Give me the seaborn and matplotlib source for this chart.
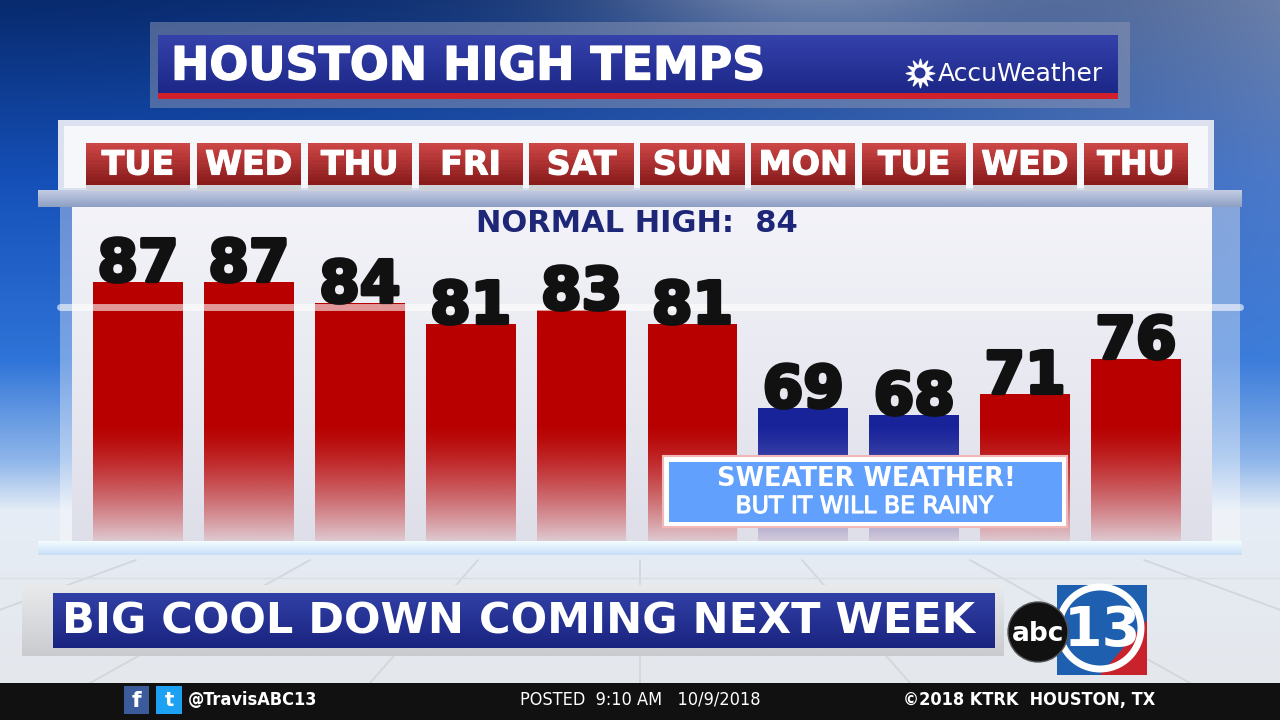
import numpy as np
import pandas as pd
import matplotlib
matplotlib.use("Agg")
import matplotlib.pyplot as plt
import matplotlib.colors as mcolors
import matplotlib.transforms as mtrans
import matplotlib.patheffects as pe
from matplotlib.patches import Rectangle, Circle, Polygon
import seaborn as sns

# chart values
days = ["TUE", "WED", "THU", "FRI", "SAT", "SUN", "MON", "TUE", "WED", "THU"]
highs = [87, 87, 84, 81, 83, 81, 69, 68, 71, 76]
normal_high = 84
cool_cutoff = 70

title = "HOUSTON HIGH TEMPS"
headline = "BIG COOL DOWN COMING NEXT WEEK"
callout = ["SWEATER WEATHER!", "BUT IT WILL BE RAINY"]
footer = ["@TravisABC13", "POSTED  9:10 AM   10/9/2018", "\u00a92018 KTRK  HOUSTON, TX"]

RED = "#b80000"
BLUE = "#18239a"
NAVY = "#1e2677"

W, H = 1280, 720
BASE = 50          # temperature at the foot of the bars
PX_PER_DEG = 7

sns.set_theme(style="white")
plt.rcParams['font.family'] = ['DejaVu Sans']


def grad_rect(ax, x0, y0, w, h, c_top, c_bot, z, alpha=1.0, **kw):
    t = np.linspace(0, 1, 64)[:, None]
    a = np.array(mcolors.to_rgb(c_top))
    b = np.array(mcolors.to_rgb(c_bot))
    img = (a * (1 - t) + b * t)[:, None, :]
    im = ax.imshow(img, extent=(x0, x0 + w, y0 + h, y0), origin='upper',
                   aspect='auto', zorder=z, alpha=alpha, interpolation='bilinear', **kw)
    return im


fig = plt.figure(figsize=(12.8, 7.2), dpi=100)

# ---- background layer (pixel coordinates) ----
bg = fig.add_axes([0, 0, 1, 1], zorder=0)
ys = np.linspace(0, 1, H)
xs = np.linspace(0, 1, W)
stops = [(0, '#082a6e'), (0.25, '#1550b8'), (0.5, '#2f74d8'), (0.64, '#8fb6ea'),
         (0.71, '#e6edf6'), (1, '#e4e6ea')]
pos = [s[0] for s in stops]
cols = np.array([mcolors.to_rgb(s[1]) for s in stops])
col = np.stack([np.interp(ys, pos, cols[:, k]) for k in range(3)], axis=-1)
img = np.repeat(col[:, None, :], W, axis=1)
light = 0.4 * xs[None, :] ** 2 * np.clip(1 - ys[:, None] / 0.6, 0, 1)
light += 0.25 * np.exp(-((xs[None, :] - 0.62) / 0.15) ** 2) * np.clip(1 - ys[:, None] / 0.12, 0, 1)
img = img + (1 - img) * light[..., None]
bg.imshow(img, extent=(0, W, H, 0), aspect='auto', zorder=0)

# floor lines
for xb in [-200, 90, 370, 640, 910, 1190, 1480]:
    bg.plot([640 + (xb - 640) * 0.6, xb], [560, 683], color='#d3d6db', lw=1.3, zorder=1)
bg.plot([0, W], [578, 578], color='#d9dce0', lw=1, zorder=1)

# glass panel
bg.add_patch(Rectangle((58, 120), 1156, 72, facecolor='#dbe1ee', edgecolor='none', zorder=2))
bg.add_patch(Rectangle((64, 126), 1144, 62, facecolor='#f6f7fb', edgecolor='none', zorder=2))
grad_rect(bg, 38, 190, 1204, 17, '#c3cde3', '#8e9fc4', 2)
bg.add_patch(Rectangle((60, 207), 1180, 334, facecolor='white', alpha=0.35, edgecolor='none', zorder=2))
grad_rect(bg, 72, 207, 1140, 334, '#f3f3f9', '#dedfe9', 2)
grad_rect(bg, 38, 541, 1204, 14, '#f3fdff', '#c8def8', 2)
bg.set_xlim(0, W)
bg.set_ylim(H, 0)
bg.axis('off')

# ---- bars ----
df = pd.DataFrame({
    'slot': range(len(highs)),
    'temp': highs,
    'kind': ['cool' if t < cool_cutoff else 'warm' for t in highs],
})
ax_left, ax_w = 82.6, 1108.8
ax_h = 341
ax = fig.add_axes([ax_left / W, (H - 541) / H, ax_w / W, ax_h / H], zorder=1)
ax.patch.set_alpha(0)
sns.barplot(data=df, x='slot', y='temp', hue='kind', palette={'warm': RED, 'cool': BLUE},
            dodge=False, width=0.81, saturation=1, legend=False, ax=ax, zorder=3)

# fade the bars into the glass near the floor
t = np.linspace(0, 1, 64)[:, None]
fade = np.zeros((64, 1, 4))
fade[..., :3] = mcolors.to_rgb('#e2d8e0')
fade[..., 3] = (0.93 * t ** 1.4)
for p in ax.patches:
    p.set_edgecolor('none')
    im = ax.imshow(fade, extent=(p.get_x(), p.get_x() + p.get_width(), BASE, BASE + 17),
                   origin='upper', aspect='auto', zorder=3.5, interpolation='bilinear')
    im.set_clip_path(p)

heavy = [pe.withStroke(linewidth=2.6, foreground='#111111')]
for i, v in enumerate(highs):
    ax.text(i, v + 0.1, str(v), ha='center', va='baseline', fontsize=42, fontweight='bold',
            color='#111111', zorder=6, path_effects=heavy)

ax.axhline(normal_high - 0.55, xmin=-0.02, xmax=1.044, color='white', alpha=0.6, lw=5,
           clip_on=False, zorder=5)
ax.set_xlim(-0.5, len(highs) - 0.5)
ax.set_ylim(BASE, BASE + ax_h / PX_PER_DEG)
ax.axis('off')

# ---- overlay layer (pixel coordinates) ----
ov = fig.add_axes([0, 0, 1, 1], zorder=2)
ov.patch.set_alpha(0)
ov.set_xlim(0, W)
ov.set_ylim(H, 0)
ov.axis('off')

# day tiles follow the bar slots
tile = mtrans.blended_transform_factory(ax.transData, ov.transData)
tile_cols = [mcolors.to_rgb('#cc4646'), mcolors.to_rgb('#8a1b1b')]
for i, d in enumerate(days):
    ov.add_patch(Rectangle((i - 0.47, 184), 0.94, 7, transform=tile,
                           facecolor='#cfd1d8', edgecolor='none', zorder=3))
    n = 12
    for k in range(n):
        f = k / (n - 1)
        c = tuple(tile_cols[0][j] * (1 - f) + tile_cols[1][j] * f for j in range(3))
        ov.add_patch(Rectangle((i - 0.47, 143 + k * 41 / n), 0.94, 41 / n + 0.5,
                               transform=tile, facecolor=c, edgecolor='none', zorder=4))
    ov.text(i, 165, d, transform=tile, ha='center', va='center', fontsize=24,
            fontweight='bold', color='white', zorder=5,
            path_effects=[pe.withStroke(linewidth=0.8, foreground='white')])

ov.text(637, 223, "NORMAL HIGH:  %d" % normal_high, ha='center', va='center',
        fontsize=22, fontweight='bold', color=NAVY, zorder=5)

# title banner
ov.add_patch(Rectangle((150, 22), 980, 86, facecolor='#8d97b3', alpha=0.5, edgecolor='none', zorder=3))
grad_rect(ov, 158, 35, 960, 60, '#3542ab', '#1b2686', 4)
ov.add_patch(Rectangle((158, 93), 960, 6, facecolor='#d0202a', edgecolor='none', zorder=5))
ov.text(171, 67, title, ha='left', va='center', fontsize=33, fontweight='bold',
        color='white', zorder=6, path_effects=[pe.withStroke(linewidth=1, foreground='white')])
ov.add_patch(Circle((920, 73), 8, facecolor='white', edgecolor='none', zorder=6))
ov.scatter([920], [73], s=420, marker=(12, 1, 0), color='white', zorder=6)
ov.add_patch(Circle((920, 73), 5.5, facecolor='#2a3596', edgecolor='none', zorder=7))
ov.text(938, 74, "AccuWeather", ha='left', va='center', fontsize=18, color='white', zorder=6)

# callout box
ov.add_patch(Rectangle((663, 456), 404, 71, facecolor='white', edgecolor='#f2b8b8', lw=1.5,
                       zorder=3))
ov.add_patch(Rectangle((669, 462), 393, 60, facecolor='#62a0fe', edgecolor='none', zorder=4))
ov.text(866, 479, callout[0], ha='center', va='center', fontsize=18.5, fontweight='bold',
        color='white', zorder=5)
ov.text(865, 506, callout[1], ha='center', va='center', fontsize=17, color='white', zorder=5,
        path_effects=[pe.withStroke(linewidth=0.8, foreground='white')])

# headline banner
grad_rect(ov, 22, 585, 982, 71, '#e9eaec', '#c9cbcf', 3)
grad_rect(ov, 53, 593, 942, 55, '#3140a6', '#1a2480', 4)
ov.text(62, 621, headline, ha='left', va='center', fontsize=31, fontweight='bold',
        color='white', zorder=5)

# abc13 logo
ov.add_patch(Rectangle((1057, 585), 90, 90, facecolor='#1f5fb0', edgecolor='none', zorder=4))
ov.add_patch(Polygon([[1147, 620], [1147, 675], [1100, 675]], closed=True,
                     facecolor='#c8232c', edgecolor='none', zorder=4))
ov.add_patch(Circle((1100, 628), 41, facecolor='none', edgecolor='white', lw=5, zorder=5))
ov.text(1102, 631, "13", ha='center', va='center', fontsize=40, fontweight='bold',
        color='white', zorder=6)
ov.add_patch(Circle((1038, 632), 30, facecolor='#111111', edgecolor='#555555', lw=1, zorder=6))
ov.text(1038, 634, "abc", ha='center', va='center', fontsize=19, fontweight='bold',
        color='white', zorder=7)

# footer strip
ov.add_patch(Rectangle((0, 683), W, 37, facecolor='#111111', edgecolor='none', zorder=4))
ov.add_patch(Rectangle((124, 686), 25, 28, facecolor='#3b5b9a', edgecolor='none', zorder=5))
ov.text(136, 701, "f", ha='center', va='center', fontsize=16, fontweight='bold', color='white', zorder=6)
ov.add_patch(Rectangle((156, 686), 26, 28, facecolor='#1da1f2', edgecolor='none', zorder=5))
ov.text(169, 700, "t", ha='center', va='center', fontsize=14, fontweight='bold', color='white', zorder=6)
ov.text(188, 700, footer[0], ha='left', va='center', fontsize=13, fontweight='bold',
        fontstretch='condensed', color='white', zorder=6)
ov.text(640, 700, footer[1], ha='center', va='center', fontsize=13,
        fontstretch='condensed', color='white', zorder=6)
ov.text(1155, 700, footer[2], ha='right', va='center', fontsize=13, fontweight='bold',
        fontstretch='condensed', color='white', zorder=6)

ov.set_xlim(0, W)
ov.set_ylim(H, 0)
bg.set_xlim(0, W)
bg.set_ylim(H, 0)

fig.savefig("out.png", dpi=100)
